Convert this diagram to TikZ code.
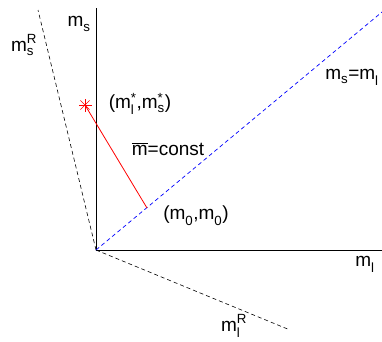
\documentclass[tikz,border=0pt]{standalone}
\usepackage{amsmath}
\usepackage{fontspec}
\setmainfont{Liberation Sans}
\usetikzlibrary{calc,positioning}
\newcommand{\mvar}[2]{m$_{\text{#1}}^{\text{#2}}$}

\begin{document}
\begin{tikzpicture}[x=1pt,y=-1pt,font=\fontsize{19}{21}\selectfont,
    axis/.style={draw=black,line width=0.8pt},
    raxis/.style={draw=black,line width=0.6pt,dash pattern=on 4pt off 3pt},
    diag/.style={draw=blue,line width=0.7pt,dash pattern=on 4pt off 3pt},
    cline/.style={draw=red,line width=0.8pt},
    lbl/.style={inner sep=0pt}]
  \useasboundingbox (0,0) rectangle (382,341);
  % axes
  \coordinate (O)    at (96,250);
  \coordinate (ytop) at (96,8);
  \coordinate (xend) at (382,250);
  \coordinate (ryend) at (38,10);
  \coordinate (rxend) at (290,330);
  \coordinate (dend) at (382,12);
  \coordinate (m0)   at (147,208);
  \coordinate (star) at (85,105);
  \draw[axis] (O) -- (ytop);
  \draw[axis] (O) -- (xend);
  \draw[raxis] (O) -- (ryend);
  \draw[raxis] (O) -- (rxend);
  \draw[diag] (O) -- (dend);
  % constant line and marker
  \draw[cline] (star) -- (m0);
  \foreach \a in {0,45,90,135}
    \draw[red,line width=0.6pt] ($(star)+(\a:6.5)$) -- ($(star)+(\a+180:6.5)$);
  % labels
  \node[lbl] (lms)  at (79,24)   {\mvar{s}{}};
  \node[lbl] (lmsR) at (24,45)   {\mvar{s}{\raisebox{2pt}{R}}};
  \node[lbl] (lml)  at (365,264) {\mvar{l}{}};
  \node[lbl] (lmlR) at (234,326) {\mvar{l}{\raisebox{2pt}{R}}};
  \node[lbl] (ldiag) at (352,77) {\mvar{s}{}=\mvar{l}{}};
  \node[lbl] (lstar) at (140,104) {(\mvar{l}{*},\mvar{s}{*})};
  \node[lbl] (lconst) at (168,149) {$\overline{\hbox{m}}$=const};
  \node[lbl] (lm0) at (196,216) {(\mvar{0}{},\mvar{0}{})};
\end{tikzpicture}
\end{document}
